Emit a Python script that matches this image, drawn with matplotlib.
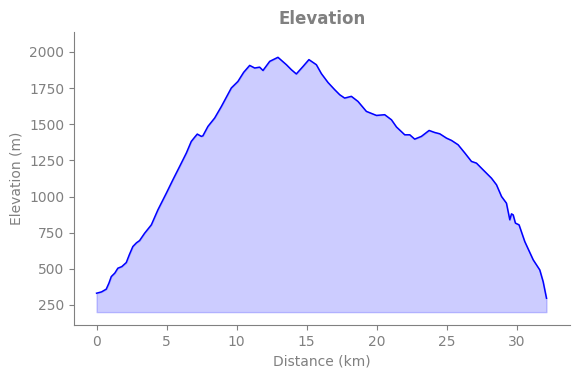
import matplotlib
matplotlib.use("Agg")
import matplotlib.pyplot as plt
import numpy as np

distance_km = [0.0, 0.35, 0.69, 0.88, 1.05, 1.3, 1.52, 1.8, 2.12, 2.35, 2.59, 2.85, 3.07, 3.43, 3.91, 4.38, 4.98,
               5.45, 5.93, 6.41, 6.76, 7.0, 7.19, 7.48, 7.59, 7.95, 8.43, 8.91, 9.62, 10.09, 10.5,
               10.93, 11.29, 11.64, 11.88, 12.36, 12.95, 13.55, 13.91, 14.26, 14.74, 15.16,
               15.69, 16.05, 16.52, 17.0, 17.36, 17.71, 18.19, 18.66, 19.26, 19.98, 20.57,
               21.05, 21.41, 22.0, 22.36, 22.71, 23.19, 23.74, 24.14, 24.5, 24.98, 25.34,
               25.81, 26.29, 26.76, 27.12, 27.59, 28.19, 28.55, 28.91, 29.26, 29.5, 29.62,
               29.74, 29.9, 30.16, 30.57, 31.17, 31.64, 31.88, 32.12]
elevation_m = [331, 340, 359, 400, 446, 470, 504, 515, 543, 600, 654, 680, 695, 746, 804, 908, 1023,
               1116, 1208, 1301, 1381, 1410, 1432, 1416, 1420, 1485, 1543, 1623, 1751, 1796, 1859,
               1907, 1889, 1895, 1872, 1935, 1963, 1912, 1877, 1848, 1900, 1947,
               1912, 1850, 1789, 1739, 1704, 1681, 1693, 1658, 1589, 1561, 1566,
               1531, 1481, 1427, 1427, 1397, 1416, 1457, 1443, 1434, 1404, 1388,
               1358, 1301, 1243, 1231, 1185, 1127, 1081, 1000, 954, 839, 880,
               873, 816, 804, 688, 562, 492, 411, 296]

fill_base = 200

fig = plt.figure(figsize=(5.8, 3.78), dpi=100)
ax = fig.add_axes([0.1276, 0.1402, 0.8552, 0.7751])

x = np.array(distance_km)
y = np.array(elevation_m)
ax.plot(x, y, color='blue', linewidth=1.1)
ax.fill_between(x, y, fill_base, color='blue', alpha=0.2)

ax.set_ylim(111, 2138)
ax.set_xlim(-1.61, 33.8)
ax.set_yticks([250, 500, 750, 1000, 1250, 1500, 1750, 2000])
ax.set_xticks([0, 5, 10, 15, 20, 25, 30])

gray = '#808080'
ax.set_title('Elevation', color=gray, fontsize=12, fontweight='bold')
ax.set_xlabel('Distance (km)', color=gray, fontsize=10)
ax.set_ylabel('Elevation (m)', color=gray, fontsize=10)
ax.tick_params(colors=gray, labelsize=10)
for s in ['top', 'right']:
    ax.spines[s].set_visible(False)
for s in ['left', 'bottom']:
    ax.spines[s].set_color(gray)

fig.savefig('out.png', dpi=100)
